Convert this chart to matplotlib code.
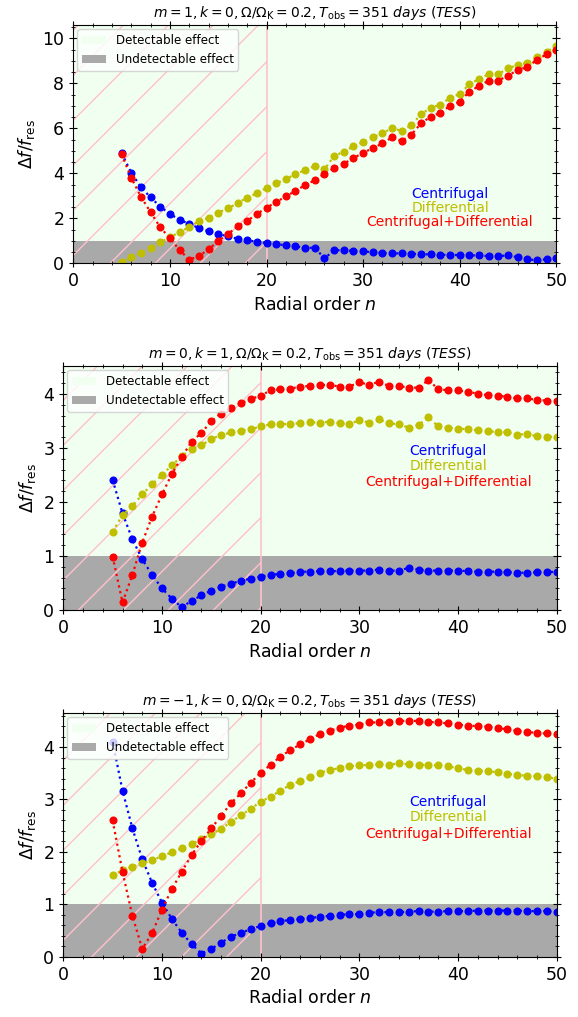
import numpy as np
import matplotlib
matplotlib.use('Agg')
import matplotlib.pyplot as plt
from matplotlib.patches import Patch
from matplotlib.lines import Line2D
from matplotlib.transforms import IdentityTransform

# ---------------- data ----------------
n = np.arange(5, 51)

titles = [
    r'$m = 1, k = 0, \Omega/\Omega_{\rm K} = 0.2, T_{\rm obs} = 351\ days\ (TESS)$',
    r'$m = 0, k = 1, \Omega/\Omega_{\rm K} = 0.2, T_{\rm obs} = 351\ days\ (TESS)$',
    r'$m = -1, k = 0, \Omega/\Omega_{\rm K} = 0.2, T_{\rm obs} = 351\ days\ (TESS)$',
]

centrifugal_1 = [4.89, 4.03, 3.38, 2.93, 2.52, 2.19, 1.94, 1.75, 1.57, 1.42,
                 1.30, 1.20, 1.09, 1.02, 0.96, 0.90, 0.85, 0.80, 0.75, 0.69,
                 0.69, 0.22, 0.58, 0.58, 0.55, 0.53, 0.49, 0.46, 0.44, 0.44,
                 0.43, 0.40, 0.40, 0.38, 0.37, 0.37, 0.35, 0.35, 0.32, 0.32,
                 0.35, 0.27, 0.18, 0.13, 0.18, 0.22]
differential_1 = [0.04, 0.27, 0.46, 0.68, 0.93, 1.16, 1.38, 1.61, 1.87, 2.03,
                  2.25, 2.44, 2.67, 2.92, 3.11, 3.35, 3.55, 3.75, 3.95, 4.15,
                  4.32, 4.18, 4.77, 4.96, 5.20, 5.39, 5.60, 5.78, 6.01, 5.88,
                  6.15, 6.62, 6.92, 7.04, 7.36, 7.52, 7.96, 8.19, 8.41, 8.41,
                  8.67, 8.81, 8.92, 9.18, 9.40, 9.66]
combined_1 = [4.85, 3.80, 2.96, 2.27, 1.60, 1.11, 0.59, 0.16, 0.32, 0.62,
              0.99, 1.30, 1.64, 1.88, 2.19, 2.47, 2.72, 2.97, 3.22, 3.48,
              3.69, 3.97, 4.22, 4.43, 4.67, 4.92, 5.11, 5.33, 5.60, 5.44,
              5.72, 6.22, 6.52, 6.69, 7.00, 7.18, 7.63, 7.88, 8.12, 8.12,
              8.34, 8.59, 8.72, 9.05, 9.29, 9.48]

centrifugal_2 = [2.41, 1.79, 1.31, 0.94, 0.65, 0.40, 0.21, 0.05, 0.17, 0.27,
                 0.36, 0.43, 0.49, 0.54, 0.58, 0.62, 0.65, 0.67, 0.68, 0.71,
                 0.71, 0.72, 0.72, 0.72, 0.73, 0.73, 0.73, 0.75, 0.73, 0.73,
                 0.78, 0.75, 0.73, 0.73, 0.73, 0.73, 0.72, 0.71, 0.71, 0.71,
                 0.70, 0.69, 0.69, 0.70, 0.71, 0.70]
differential_2 = [1.45, 1.76, 1.93, 2.14, 2.33, 2.50, 2.68, 2.85, 2.99, 3.05,
                  3.17, 3.24, 3.29, 3.32, 3.35, 3.40, 3.44, 3.44, 3.45, 3.46,
                  3.48, 3.47, 3.49, 3.46, 3.44, 3.52, 3.47, 3.53, 3.46, 3.44,
                  3.38, 3.43, 3.57, 3.40, 3.38, 3.36, 3.35, 3.33, 3.31, 3.30,
                  3.29, 3.25, 3.26, 3.22, 3.21, 3.21]
combined_2 = [0.99, 0.14, 0.65, 1.25, 1.73, 2.14, 2.52, 2.83, 3.12, 3.28,
              3.50, 3.64, 3.75, 3.83, 3.91, 3.97, 4.07, 4.09, 4.10, 4.14,
              4.15, 4.17, 4.17, 4.14, 4.14, 4.22, 4.17, 4.23, 4.15, 4.15,
              4.12, 4.12, 4.26, 4.09, 4.07, 4.07, 4.04, 4.01, 3.98, 3.97,
              3.95, 3.92, 3.92, 3.89, 3.88, 3.88]

centrifugal_3 = [4.10, 3.17, 2.45, 1.86, 1.41, 1.03, 0.72, 0.46, 0.24, 0.06,
                 0.15, 0.27, 0.38, 0.46, 0.52, 0.59, 0.64, 0.68, 0.70, 0.72,
                 0.74, 0.76, 0.78, 0.80, 0.81, 0.81, 0.84, 0.85, 0.85, 0.85,
                 0.86, 0.87, 0.86, 0.86, 0.87, 0.87, 0.87, 0.88, 0.88, 0.88,
                 0.88, 0.88, 0.87, 0.87, 0.87, 0.86]
differential_3 = [1.55, 1.65, 1.72, 1.78, 1.84, 1.92, 1.99, 2.07, 2.15, 2.24,
                  2.34, 2.44, 2.57, 2.70, 2.82, 2.96, 3.05, 3.17, 3.28, 3.35,
                  3.42, 3.51, 3.56, 3.60, 3.63, 3.65, 3.66, 3.67, 3.66, 3.69,
                  3.67, 3.66, 3.66, 3.65, 3.63, 3.60, 3.56, 3.55, 3.54, 3.52,
                  3.49, 3.47, 3.45, 3.44, 3.42, 3.40]
combined_3 = [2.60, 1.62, 0.78, 0.15, 0.45, 0.90, 1.29, 1.62, 1.94, 2.21,
              2.45, 2.69, 2.93, 3.12, 3.32, 3.51, 3.66, 3.82, 3.94, 4.05,
              4.15, 4.25, 4.31, 4.37, 4.41, 4.43, 4.47, 4.47, 4.47, 4.50,
              4.50, 4.50, 4.48, 4.47, 4.45, 4.43, 4.41, 4.40, 4.39, 4.36,
              4.34, 4.31, 4.29, 4.27, 4.26, 4.25]

series_labels = ['Centrifugal', 'Differential', 'Centrifugal+Differential']
series_colors = ['b', 'y', 'r']
panels = [
    (centrifugal_1, differential_1, combined_1),
    (centrifugal_2, differential_2, combined_2),
    (centrifugal_3, differential_3, combined_3),
]
detect_threshold = 1.0
hatch_limit_n = 20

# ---------------- layout ----------------
ymax = [10.59, 4.52, 4.65]
text_y = [(3.07, 2.47, 1.85), (2.95, 2.67, 2.38), (2.96, 2.66, 2.35)]
text_x = 39
axes_pos = [[0.1268, 0.7411, 0.8357, 0.2343],
            [0.1095, 0.4002, 0.8537, 0.2399],
            [0.1095, 0.0593, 0.8537, 0.2396]]

fig = plt.figure(figsize=(5.78, 10.17), dpi=100)
hatch_spacing = 45.0
hatch_phase = -823.5   # display-pixel offset of the diagonal pattern (x - y = c)

for i, (pos, vals) in enumerate(zip(axes_pos, panels)):
    ax = fig.add_axes(pos)
    ax.set_xlim(0, 50)
    ax.set_ylim(0, ymax[i])
    ax.set_facecolor('honeydew')
    ax.axhspan(0, detect_threshold, color='darkgray', lw=0, zorder=0.5)

    # diagonal pink hatching over n < 20 (45 deg in pixel space)
    (x0, y0) = ax.transData.transform((0, 0))
    (x1, y1) = ax.transData.transform((hatch_limit_n, ymax[i]))
    for k in range(-40, 60):
        c = hatch_phase + hatch_spacing * k
        xs = max(x0, y0 + c)
        xe = min(x1, y1 + c)
        if xe - xs > 0.5:
            ln = Line2D([xs, xe], [xs - c, xe - c], transform=IdentityTransform(),
                        color='pink', lw=1.0, zorder=0.8)
            ax.add_artist(ln)
    ax.axvline(hatch_limit_n, color='pink', lw=1.2, zorder=0.9)

    for v, col in zip(vals, series_colors):
        ax.plot(n, v, ':o', color=col, ms=4.8, lw=1.6, zorder=2)

    for lab, col, ty in zip(series_labels, series_colors, text_y[i]):
        ax.text(text_x, ty, lab, color=col, fontsize=10, ha='center', va='center')

    handles = [Patch(facecolor='honeydew', label='Detectable effect'),
               Patch(facecolor='darkgray', label='Undetectable effect')]
    ax.legend(handles=handles, loc='upper left', fontsize=8.6, borderaxespad=0.35)

    ax.minorticks_on()
    ax.tick_params(which='both', direction='inout', top=True, right=True)
    ax.tick_params(which='major', length=6, labelsize=12.5)
    ax.tick_params(which='minor', length=3.5)
    ax.set_xlabel('Radial order $n$', fontsize=12.5)
    ax.set_ylabel(r'$\Delta f/f_{\rm res}$', fontsize=12.5)
    ax.set_title(titles[i], fontsize=10)

fig.savefig('out.png', dpi=100)
